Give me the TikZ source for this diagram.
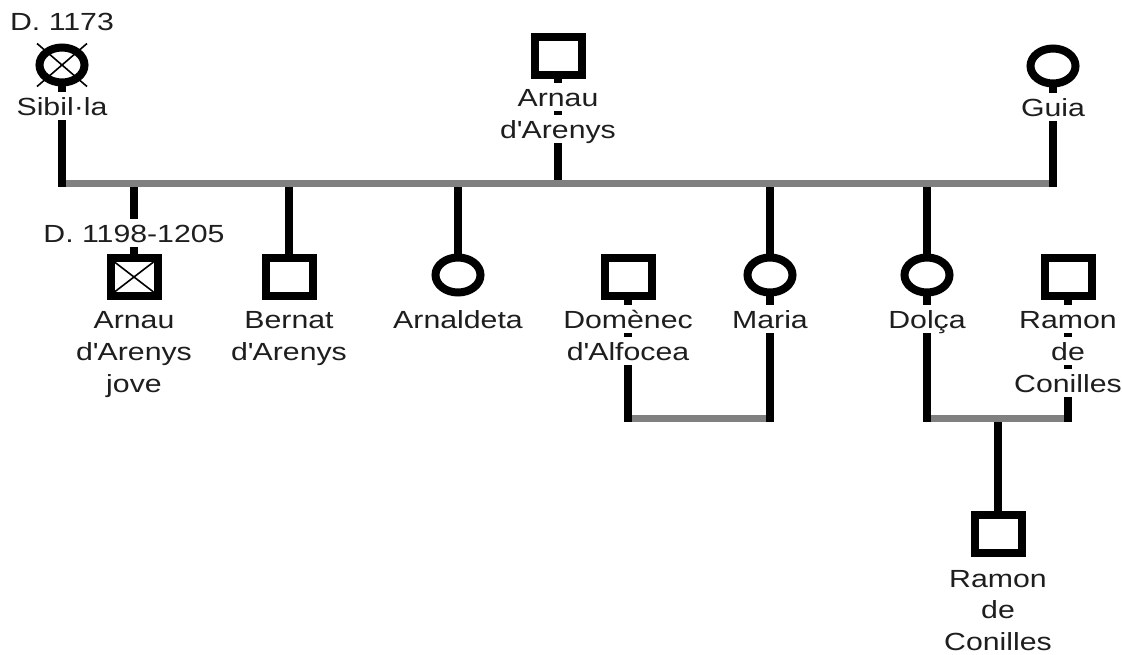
\documentclass[tikz,border=0pt]{standalone}
\usepackage{fontspec}
\setmainfont{Liberation Sans}[FakeStretch=1.22]
\usetikzlibrary{shapes.geometric}
\definecolor{barg}{RGB}{128,128,128}
\definecolor{txt}{RGB}{30,30,30}
\begin{document}
\begin{tikzpicture}[x=1pt,y=-1pt,
  sym/.style={draw=black, line width=8pt, inner sep=0pt, outer sep=0pt},
  male/.style={sym, rectangle, minimum width=47pt, minimum height=38pt},
  female/.style={sym, ellipse, minimum width=45pt, minimum height=35pt},
  lbl/.style={anchor=base, fill=white, inner ysep=0pt, inner xsep=2pt, text height=23pt, text depth=5pt, text=txt, font=\fontsize{24.8}{28}\selectfont},
  kin/.style={line width=7.5pt, draw=black},
  bar/.style={line width=7pt, draw=barg},
  cross/.style={line width=1.6pt, draw=black}
]
\useasboundingbox (0,0) rectangle (1122,654);
\fill[white] (0,0) rectangle (1122,654);

% symbols
\node[female] (sib) at (62,65) {};
\node[male] (arnT) at (558,56) {};
\node[female] (guia) at (1053,66) {};
\node[male] (aj) at (134,277) {};
\node[male] (bern) at (289,277) {};
\node[female] (arnal) at (458,275) {};
\node[male] (dom) at (628,277) {};
\node[female] (maria) at (770,275) {};
\node[female] (dolca) at (927,275) {};
\node[male] (ramR) at (1068,277) {};
\node[male] (ramB) at (998,534) {};

% deceased marks
\draw[cross] ([shift={(-25,-21.5)}]sib.center) -- ([shift={(25,21.5)}]sib.center);
\draw[cross] ([shift={(25,-21.5)}]sib.center) -- ([shift={(-25,21.5)}]sib.center);
\draw[cross] ([shift={(4,4)}]aj.north west) -- ([shift={(-4,-4)}]aj.south east);
\draw[cross] ([shift={(-4,4)}]aj.north east) -- ([shift={(4,-4)}]aj.south west);

% bar coordinates
\coordinate (barL) at (62,183);
\coordinate (barR) at (1053,183);
\coordinate (m1L) at (628,418);
\coordinate (m1R) at (770,418);
\coordinate (m2L) at (927,418);
\coordinate (m2R) at (1068,418);
\coordinate (m2C) at (998,418);

% lines under the sibship bar
\draw[kin] (arnT.south) -- (arnT.south |- barL);
\draw[kin] (aj.north |- barL) -- (aj.north);
\draw[kin] (bern.north |- barL) -- (bern.north);
\draw[kin] (arnal.north |- barL) -- (arnal.north);
\draw[kin] (maria.north |- barL) -- (maria.north);
\draw[kin] (dolca.north |- barL) -- (dolca.north);
\draw[kin] (m2C) -- (ramB.north);

% bars
\draw[bar] (barL) -- (barR);
\draw[bar] (m1L) -- (m1R);
\draw[bar] (m2L) -- (m2R);

% lines over the bars
\draw[kin] (sib.south) -- ([yshift=-3.5pt]barL);
\draw[kin] (guia.south) -- ([yshift=-3.5pt]barR);
\draw[kin] (dom.south) -- ([yshift=-3.5pt]m1L);
\draw[kin] (maria.south) -- ([yshift=-3.5pt]m1R);
\draw[kin] (dolca.south) -- ([yshift=-3.5pt]m2L);
\draw[kin] (ramR.south) -- ([yshift=-3.5pt]m2R);

% labels
\node[lbl] (sibD) at (62,30) {D. 1173};
\node[lbl] (sibN) at (62,115) {Sibil·la};
\node[lbl] (arnT1) at (558,106) {Arnau};
\node[lbl] (arnT2) at (558,138) {d\textquotesingle Arenys};
\node[lbl] (guiaN) at (1053,116) {Guia};
\node[lbl] (ajD) at (134,242) {D. 1198-1205};
\node[lbl] (aj1) at (134,328) {Arnau};
\node[lbl] (aj2) at (134,360) {d\textquotesingle Arenys};
\node[lbl] (aj3) at (134,392) {jove};
\node[lbl] (bern1) at (289,328) {Bernat};
\node[lbl] (bern2) at (289,360) {d\textquotesingle Arenys};
\node[lbl] (arnalN) at (458,328) {Arnaldeta};
\node[lbl] (dom1) at (628,328) {Domènec};
\node[lbl] (dom2) at (628,360) {d\textquotesingle Alfocea};
\node[lbl] (mariaN) at (770,328) {Maria};
\node[lbl] (dolcaN) at (927,328) {Dolça};
\node[lbl] (ramR1) at (1068,328) {Ramon};
\node[lbl] (ramR2) at (1068,360) {de};
\node[lbl] (ramR3) at (1068,392) {Conilles};
\node[lbl] (ramB1) at (998,587) {Ramon};
\node[lbl] (ramB2) at (998,618) {de};
\node[lbl] (ramB3) at (998,650) {Conilles};
\end{tikzpicture}
\end{document}
